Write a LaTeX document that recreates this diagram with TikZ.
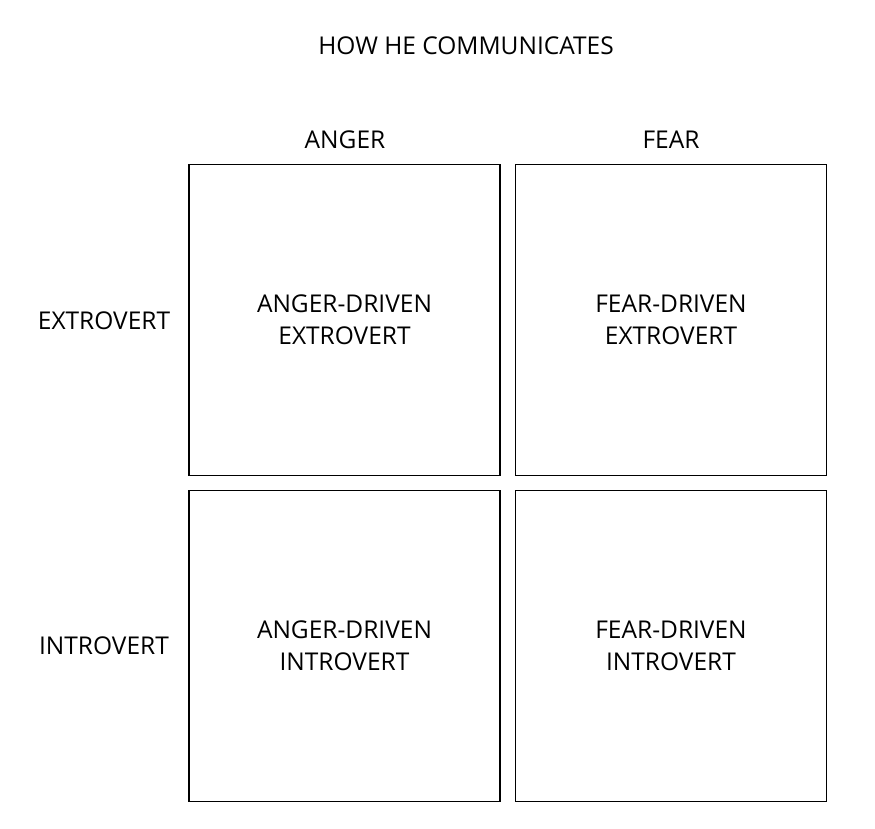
\documentclass[tikz,border=0pt]{standalone}
\usepackage{fontspec}
\setmainfont{Open Sans}
\begin{document}
\begin{tikzpicture}[x=1pt,y=-1pt,
    cell/.style={draw,line width=1.3pt,minimum width=311pt,minimum height=311pt,align=center,font=\fontsize{24.5}{32}\selectfont},
    lbl/.style={font=\fontsize{24.5}{32}\selectfont}]
    \useasboundingbox (0,0) rectangle (875,829);
    \node[lbl] (title) at (466,46) {HOW HE COMMUNICATES};
    \node[lbl] (anger) at (345,140) {ANGER};
    \node[lbl] (fear) at (671,140) {FEAR};
    \node[lbl] (extro) at (104,321) {EXTROVERT};
    \node[lbl] (intro) at (104,646) {INTROVERT};
    \node[cell] (ae) at (344.5,320) {ANGER-DRIVEN\\EXTROVERT};
    \node[cell] (fe) at (671,320) {FEAR-DRIVEN\\EXTROVERT};
    \node[cell] (ai) at (344.5,646) {ANGER-DRIVEN\\INTROVERT};
    \node[cell] (fi) at (671,646) {FEAR-DRIVEN\\INTROVERT};
\end{tikzpicture}
\end{document}
